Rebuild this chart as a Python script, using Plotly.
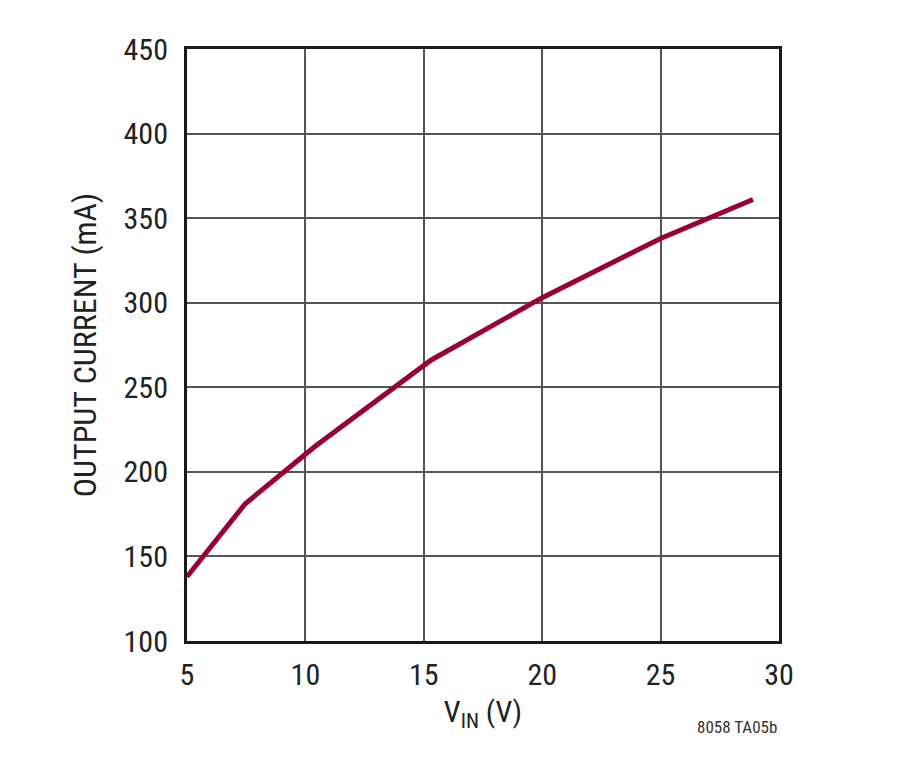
import plotly.graph_objects as go

# values
vin = [5, 7.45, 10.4, 13.8, 15.3, 20, 25, 28.9]
iout = [138, 181, 215, 250, 266, 303, 338, 361]

x_ticks = [5, 10, 15, 20, 25, 30]
y_ticks = [100, 150, 200, 250, 300, 350, 400, 450]

font_name = "Liberation Sans Narrow, Roboto Condensed, Arial Narrow, sans-serif"

fig = go.Figure()
fig.add_trace(go.Scatter(x=vin, y=iout, mode="lines",
                         line=dict(color="#990033", width=5),
                         showlegend=False))

fig.update_layout(
    width=900, height=771,
    margin=dict(l=179, r=129, t=41, b=138),
    paper_bgcolor="white", plot_bgcolor="white",
    font=dict(family=font_name, size=30, color="#222222"),
)
fig.update_xaxes(
    range=[5, 30], tickvals=x_ticks,
    showgrid=True, gridcolor="#555555", gridwidth=2,
    showline=True, linecolor="#1a1a1a", linewidth=3, mirror=True,
    ticks="outside", ticklen=5, tickcolor="rgba(0,0,0,0)",
    zeroline=False,
    title=dict(text="V<sub>IN</sub> (V)", standoff=10, font=dict(size=30)),
)
fig.update_yaxes(
    range=[100, 450], tickvals=y_ticks,
    showgrid=True, gridcolor="#555555", gridwidth=2,
    showline=True, linecolor="#1a1a1a", linewidth=3, mirror=True,
    ticks="outside", ticklen=10, tickcolor="rgba(0,0,0,0)",
    zeroline=False,
    title=dict(text="OUTPUT CURRENT (mA)", standoff=18, font=dict(size=32)),
)
fig.add_annotation(text="8058 TA05b", xref="paper", yref="paper",
                   x=1.0, y=-0.145, xanchor="right", yanchor="middle",
                   showarrow=False, font=dict(size=17, color="#333333"))

fig.write_html("out.html")
